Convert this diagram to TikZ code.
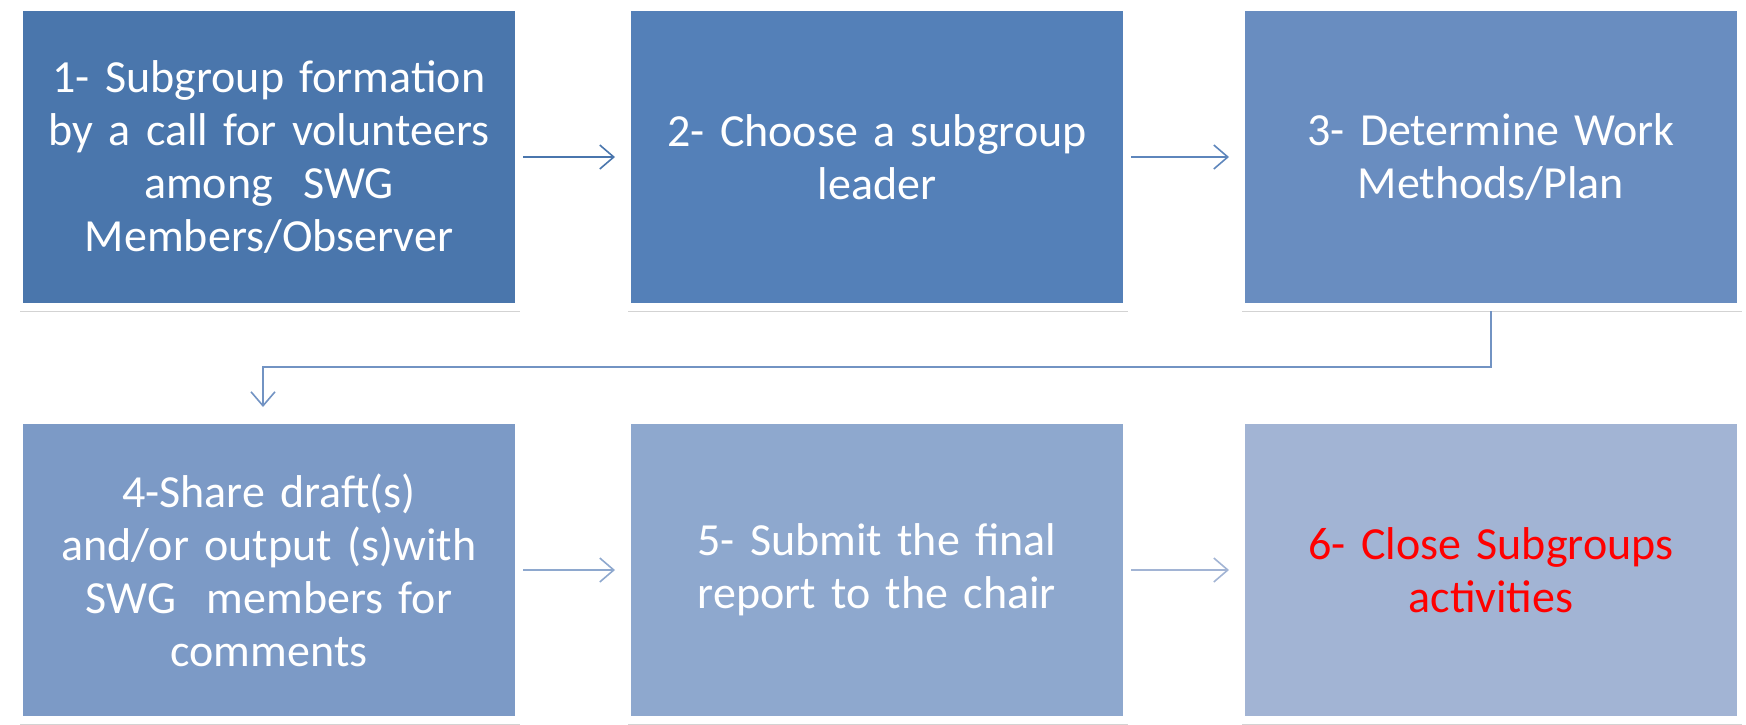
\documentclass[tikz,border=0pt]{standalone}
\usepackage{fontspec}
\setmainfont{Carlito}[WordSpace={0.85,0,0}]
\usepackage{tikz}
\usetikzlibrary{arrows.meta, shadows, calc}

\definecolor{stepA}{HTML}{4A76AC}
\definecolor{stepB}{HTML}{5480B8}
\definecolor{stepC}{HTML}{698DC0}
\definecolor{stepD}{HTML}{7C9AC6}
\definecolor{stepE}{HTML}{8EA8CE}
\definecolor{stepF}{HTML}{A2B4D4}

\tikzset{
  stepbox/.style={rectangle, draw=white, line width=8pt, minimum width=500pt, minimum height=300pt,
    text width=480pt, align=center, text=white, font=\fontsize{46}{53}\selectfont,
    drop shadow={shadow xshift=1pt, shadow yshift=-5pt, opacity=0.35}},
  flow/.style={line width=1.6pt, -{Straight Barb[length=14pt, width=24pt, line width=1.6pt]}}
}

\begin{document}
\begin{tikzpicture}[x=1pt, y=-1pt]
  % page frame
  \useasboundingbox (0,0) rectangle (1746,724);
  % top row
  \node[stepbox, fill=stepA] (b1) at (269,157) {1- Subgroup formation\\ by a call for volunteers\\ among~ SWG\\ Members/Observer};
  \node[stepbox, fill=stepB] (b2) at (877,157) {2- Choose a subgroup\\ leader};
  \node[stepbox, fill=stepC] (b3) at (1491,157) {3- Determine Work\\ Methods/Plan};
  % bottom row
  \node[stepbox, fill=stepD] (b4) at (269,570) {4-Share draft(s)\\ and/or output (s)with\\ SWG~ members for\\ comments};
  \node[stepbox, fill=stepE] (b5) at (877,570) {5- Submit the final\\ report to the chair};
  \node[stepbox, fill=stepF, text=red] (b6) at (1491,570) {6- Close Subgroups\\ activities};
  % connectors
  \draw[flow, color=stepA!95!stepB, shorten >=8pt] (b1.east) -- (b2.west);
  \draw[flow, color=stepB!50!stepC, shorten >=8pt] (b2.east) -- (b3.west);
  \draw[flow, color=stepC!50!stepD, shorten >=9pt] (b3.south) -- ++(0,56) -| ([xshift=-6pt]b4.north);
  \draw[flow, color=stepE, shorten >=8pt] (b4.east) -- (b5.west);
  \draw[flow, color=stepF, shorten >=8pt] (b5.east) -- (b6.west);
\end{tikzpicture}
\end{document}
